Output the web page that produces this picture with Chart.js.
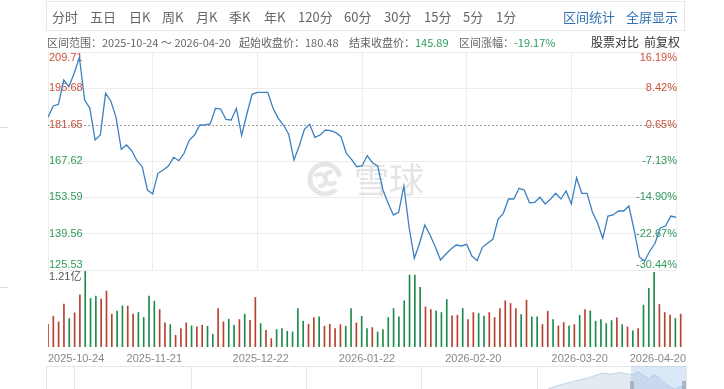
<!DOCTYPE html>
<html>
<head>
<meta charset="utf-8">
<script src="https://cdn.jsdelivr.net/npm/chart.js@4.4.0/dist/chart.umd.min.js"></script>
<style>
  html, body { margin: 0; padding: 0; background: #fff; }
  body { width: 724px; height: 389px; overflow: hidden; position: relative;
         font-family: "Noto Sans CJK SC", "Liberation Sans", sans-serif; }
  canvas { position: absolute; left: 0; top: 0; }
  .t { position: absolute; white-space: nowrap; }
  #tabs { position: absolute; left: 46px; top: 1px; width: 639px; height: 30px;
          border: 1px solid #e8e8e8; box-sizing: border-box; }
  .edge { position: absolute; left: 0; width: 8px; height: 1px; background: #ddd; }
</style>
</head>
<body>
<div id="tabs"></div>
<div class="edge" style="top:127px"></div>
<div class="edge" style="top:287px"></div>
<canvas id="nav" width="724" height="430"></canvas>
<canvas id="vol" width="724" height="389"></canvas>
<canvas id="price" width="724" height="389"></canvas>
<div id="head"></div>

<script>
// ---- data ----
const tabNames = ["分时", "五日", "日K", "周K", "月K", "季K", "年K", "120分", "60分", "30分", "15分", "5分", "1分"];
const linkNames = ["区间统计", "全屏显示"];

const rangeText = "区间范围：2025-10-24 ～ 2026-04-20";
const startClose = 180.48;
const endClose = 145.89;
const rangeChange = "-19.17%";

const priceTicks = [209.71, 195.68, 181.65, 167.62, 153.59, 139.56, 125.53];
const pctTicks = ["16.19%", "8.42%", "0.65%", "-7.13%", "-14.90%", "-22.67%", "-30.44%"];
const refLine = 181.65;

const dateTicks = [0, 20, 40, 60, 80, 100, 120];
const dateLabels = ["2025-10-24", "2025-11-21", "2025-12-22", "2026-01-22", "2026-02-20", "2026-03-20", "2026-04-20"];

// daily closes, one per trading day
const closes = [
  184.49, 188.86, 189.51, 198.90, 196.31, 201.48, 207.59, 191.17, 187.97, 175.73,
  177.66, 193.76, 190.79, 184.49, 172.14, 173.80, 171.60, 167.74, 165.42, 156.42,
  154.88, 162.87, 164.14, 165.69, 169.05, 167.74, 170.59, 175.73, 177.66, 181.52,
  181.52, 181.91, 187.97, 187.70, 183.72, 183.45, 187.97, 177.47, 185.77, 193.38,
  194.15, 194.15, 194.15, 187.97, 184.11, 181.52, 177.93, 168.01, 173.41, 179.86,
  181.79, 176.77, 177.66, 179.59, 179.32, 178.55, 177.00, 170.59, 168.28, 165.42,
  165.69, 169.67, 166.96, 165.69, 156.42, 151.29, 146.77, 147.81, 157.97, 142.02,
  130.05, 135.84, 142.91, 139.04, 134.53, 129.39, 131.59, 133.64, 135.18, 134.80,
  135.45, 130.94, 129.12, 134.30, 135.84, 137.38, 145.11, 147.42, 152.95, 152.95,
  157.08, 156.42, 151.52, 151.67, 153.60, 151.02, 152.83, 155.15, 152.95, 156.04,
  151.02, 161.17, 155.15, 155.15, 148.04, 143.79, 137.77, 146.38, 146.77, 148.31,
  148.31, 150.24, 140.98, 130.55, 129.00, 132.87, 135.84, 141.75, 142.52, 146.38,
  145.89
];

// volume in 亿
const volMax = 1.21;
const volLabel = "1.21亿";
const volumes = [
  0.358, 0.484, 0.395, 0.673, 0.447, 0.537, 0.821, 1.210, 0.763, 0.800,
  0.752, 0.879, 0.516, 0.563, 0.647, 0.642, 0.516, 0.542, 0.463, 0.800,
  0.721, 0.589, 0.379, 0.352, 0.184, 0.289, 0.379, 0.331, 0.316, 0.342,
  0.326, 0.200, 0.605, 0.395, 0.437, 0.342, 0.431, 0.516, 0.421, 0.779,
  0.368, 0.263, 0.132, 0.274, 0.289, 0.247, 0.237, 0.605, 0.405, 0.358,
  0.463, 0.474, 0.326, 0.358, 0.289, 0.352, 0.326, 0.605, 0.379, 0.484,
  0.289, 0.305, 0.237, 0.274, 0.463, 0.605, 0.474, 0.726, 1.131, 1.131,
  0.936, 0.631, 0.589, 0.568, 0.542, 0.747, 0.489, 0.500, 0.605, 0.431,
  0.542, 0.526, 0.484, 0.542, 0.463, 0.605, 0.726, 0.684, 0.605, 0.510,
  0.737, 0.474, 0.474, 0.352, 0.563, 0.431, 0.331, 0.384, 0.331, 0.352,
  0.500, 0.589, 0.568, 0.405, 0.431, 0.368, 0.416, 0.458, 0.352, 0.316,
  0.253, 0.289, 0.658, 0.921, 1.173, 0.668, 0.542, 0.500, 0.447, 0.516
];
// 1 = up day (red), 0 = down day (green)
const volUp = [
  1, 1, 1, 1, 0, 1, 1, 0, 0, 0,
  1, 1, 1, 0, 0, 1, 1, 0, 0, 0,
  0, 1, 1, 0, 1, 1, 1, 0, 1, 1,
  0, 0, 1, 1, 0, 0, 1, 0, 1, 1,
  0, 1, 1, 0, 0, 0, 0, 0, 0, 1,
  1, 0, 1, 1, 1, 1, 0, 0, 1, 0,
  0, 1, 0, 0, 0, 0, 0, 0, 0, 0,
  0, 1, 1, 0, 0, 0, 1, 1, 0, 1,
  1, 0, 0, 1, 1, 1, 1, 1, 1, 0,
  1, 0, 0, 1, 1, 0, 1, 1, 0, 1,
  0, 1, 0, 0, 0, 0, 0, 1, 0, 1,
  0, 1, 0, 0, 0, 1, 1, 1, 0, 1
];

// navigator (long history, same x units)
const navX = [94, 95.5, 97, 98.5, 100, 101.5, 103, 104.5, 106, 107.5, 109, 110, 111, 112, 113, 114, 115, 116, 117, 118, 119, 120];
const navY = [140, 150, 158, 165, 172, 178, 188, 195, 192, 198, 193, 190, 200, 188, 175, 190, 178, 160, 148, 140, 150, 146];
const navGrid = [0, 5.4, 27.2, 48.8, 70.4, 92.1, 120];
const navWindow = [109.7, 120];

// ---- styles ----
const RED = "#c9503c";
const GREEN = "#2f9a5c";
const BAR_RED = "#b8402f";
const BAR_GREEN = "#1f8a4c";
const LINE = "#3d80c2";
const GRID = "#ececec";
const NUM_FONT = { family: "'Liberation Sans', 'Noto Sans CJK SC', sans-serif", size: 11, lineHeight: 1 };

Chart.defaults.animation = false;

// ---- header ----
const head = document.getElementById("head");
function addText(parts, x, y, size) {
  const s = document.createElement("span");
  s.className = "t";
  s.style.left = x + "px";
  s.style.top = (y - size / 2) + "px";
  s.style.fontSize = size + "px";
  s.style.lineHeight = size + "px";
  parts.forEach(([txt, color]) => {
    const p = document.createElement("span");
    p.textContent = txt;
    p.style.color = color;
    s.appendChild(p);
  });
  head.appendChild(s);
}
const tabX = [52, 90, 129, 162, 196, 229, 264, 298, 344, 384, 424, 463, 496];
tabNames.forEach((n, i) => addText([[n, "#666"]], tabX[i], 16, 13));
addText([[linkNames[0], "#2f72b1"]], 563, 16, 13);
addText([[linkNames[1], "#2f72b1"]], 626, 16, 13);

addText([[rangeText, "#666"]], 47, 42, 11);
addText([["起始收盘价：" + startClose.toFixed(2), "#666"]], 239, 42, 11);
addText([["结束收盘价：", "#666"], [endClose.toFixed(2), GREEN]], 349, 42, 11);
addText([["区间涨幅：", "#666"], [rangeChange, GREEN]], 459, 42, 11);
addText([["股票对比", "#333"]], 591, 42, 12);
addText([["前复权", "#333"]], 644, 42, 12);

// ---- price chart ----
const yMin = Math.min(...priceTicks);
const yMax = Math.max(...priceTicks);
const tickObjs = priceTicks.slice().sort((a, b) => a - b).map(v => ({ value: v }));

function edgeLabel(txt, v) {
  if (v === yMax) return ["", txt];
  if (v === yMin) return [txt, ""];
  return txt;
}

const priceDeco = {
  id: "priceDeco",
  beforeDatasetsDraw(chart) {
    const { ctx, chartArea, scales } = chart;
    ctx.save();
    // watermark
    ctx.strokeStyle = "#e6e6e6";
    ctx.lineWidth = 5;
    ctx.beginPath();
    ctx.arc(325, 179, 15, 0.25 * Math.PI, 1.95 * Math.PI);
    ctx.stroke();
    ctx.lineWidth = 4;
    ctx.beginPath();
    ctx.arc(320, 180, 6, 1.2 * Math.PI, 2.6 * Math.PI);
    ctx.stroke();
    ctx.beginPath();
    ctx.arc(331, 178, 6, 0.2 * Math.PI, 1.6 * Math.PI);
    ctx.stroke();
    ctx.fillStyle = "#e4e4e4";
    ctx.font = "35px 'Noto Sans CJK SC'";
    ctx.textBaseline = "middle";
    ctx.fillText("雪球", 354, 180);
    // dashed reference line
    const y = Math.round(scales.y.getPixelForValue(refLine)) + 0.5;
    ctx.strokeStyle = "#999";
    ctx.lineWidth = 1;
    ctx.setLineDash([2, 2]);
    ctx.beginPath();
    ctx.moveTo(chartArea.left, y);
    ctx.lineTo(chartArea.right, y);
    ctx.stroke();
    ctx.restore();
  }
};

new Chart(document.getElementById("price"), {
  type: "line",
  data: {
    datasets: [{
      data: closes.map((c, i) => ({ x: i, y: c })),
      borderColor: LINE,
      borderWidth: 1.3,
      pointRadius: 0,
      tension: 0,
      fill: false
    }]
  },
  options: {
    responsive: false,
    devicePixelRatio: 1,
    layout: { padding: { left: 46, right: 38, top: 52, bottom: 119 } },
    plugins: { legend: { display: false }, tooltip: { enabled: false } },
    scales: {
      x: {
        type: "linear", min: 0, max: 120,
        afterBuildTicks: s => { s.ticks = dateTicks.map(v => ({ value: v })); },
        ticks: { display: false },
        grid: { color: GRID, drawTicks: false },
        border: { display: false }
      },
      y: {
        position: "left", min: yMin, max: yMax,
        afterBuildTicks: s => { s.ticks = tickObjs.map(t => ({ value: t.value })); },
        ticks: {
          mirror: true, padding: 1, font: NUM_FONT,
          color: ctx => ctx.tick.value > startClose ? RED : GREEN,
          callback: v => edgeLabel(v.toFixed(2), v)
        },
        grid: {
          drawTicks: false,
          color: ctx => (ctx.tick && ctx.tick.value === refLine) ? "rgba(0,0,0,0)" : GRID
        },
        border: { display: false }
      },
      y1: {
        position: "right", min: yMin, max: yMax,
        afterBuildTicks: s => { s.ticks = tickObjs.map(t => ({ value: t.value })); },
        ticks: {
          mirror: true, padding: 1, font: NUM_FONT,
          color: ctx => ctx.tick.value > startClose ? RED : GREEN,
          callback: v => edgeLabel(pctTicks[priceTicks.indexOf(v)], v)
        },
        grid: { display: false },
        border: { display: false }
      }
    }
  },
  plugins: [priceDeco]
});

// ---- volume chart ----
new Chart(document.getElementById("vol"), {
  type: "bar",
  data: {
    datasets: [{
      data: volumes.map((v, i) => ({ x: i, y: v })),
      backgroundColor: volUp.map(u => u ? BAR_RED : BAR_GREEN),
      barThickness: 1,
      borderWidth: 0
    }]
  },
  options: {
    responsive: false,
    devicePixelRatio: 1,
    layout: { padding: { left: 46, right: 38, top: 270, bottom: 22 } },
    plugins: { legend: { display: false }, tooltip: { enabled: false } },
    scales: {
      x: {
        type: "linear", min: 0, max: 120, offset: false,
        afterBuildTicks: s => { s.ticks = dateTicks.map(v => ({ value: v })); },
        afterFit: s => { s.height = 20; },
        ticks: {
          align: "inner", padding: 5, color: "#888", maxRotation: 0, autoSkip: false,
          font: { family: NUM_FONT.family, size: 11 },
          callback: v => dateLabels[dateTicks.indexOf(v)]
        },
        grid: { display: false, drawTicks: false, offset: false },
        border: { display: false }
      },
      y: {
        min: 0, max: volMax,
        afterBuildTicks: s => { s.ticks = [{ value: volMax }]; },
        ticks: {
          mirror: true, padding: 1, color: "#555",
          font: { family: NUM_FONT.family, size: 11, lineHeight: 1.2 },
          callback: () => ["", volLabel]
        },
        grid: { display: false, drawTicks: false },
        border: { display: false }
      }
    }
  }
});

// ---- navigator ----
const navDeco = {
  id: "navDeco",
  afterDatasetsDraw(chart) {
    const { ctx, chartArea, scales } = chart;
    const x0 = scales.x.getPixelForValue(navWindow[0]);
    const x1 = scales.x.getPixelForValue(navWindow[1]);
    ctx.save();
    ctx.fillStyle = "rgba(150,185,228,0.35)";
    ctx.fillRect(x0, chartArea.top, x1 - x0, chartArea.bottom - chartArea.top);
    ctx.fillStyle = "#a9b4c2";
    ctx.fillRect(x0 - 1, chartArea.top + 15, 4, 20);
    ctx.fillRect(x1 - 4, chartArea.top + 15, 4, 20);
    ctx.restore();
  }
};

new Chart(document.getElementById("nav"), {
  type: "line",
  data: {
    datasets: [{
      data: navX.map((x, i) => ({ x: x, y: navY[i] })),
      borderColor: "#c3d1e4",
      borderWidth: 1,
      backgroundColor: "rgba(205,216,232,0.55)",
      fill: "origin",
      pointRadius: 0,
      tension: 0
    }]
  },
  options: {
    responsive: false,
    devicePixelRatio: 1,
    layout: { padding: { left: 46, right: 38, top: 366, bottom: 0 } },
    plugins: { legend: { display: false }, tooltip: { enabled: false } },
    scales: {
      x: {
        type: "linear", min: 0, max: 120,
        afterBuildTicks: s => { s.ticks = navGrid.map(v => ({ value: v })); },
        ticks: { display: false },
        grid: { color: "#e6e6e6", drawTicks: false },
        border: { display: false }
      },
      y: {
        min: 0, max: 220,
        afterBuildTicks: s => { s.ticks = [{ value: 220 }]; },
        ticks: { display: false },
        grid: { color: "#e6e6e6", drawTicks: false },
        border: { display: false }
      }
    }
  },
  plugins: [navDeco]
});
</script>
</body>
</html>
